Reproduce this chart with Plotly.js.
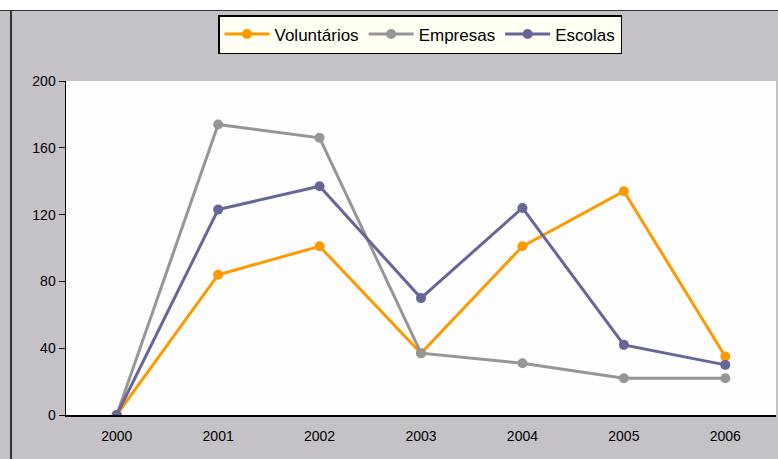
<!DOCTYPE html>
<html>
<head>
<meta charset="utf-8">
<script src="https://cdn.plot.ly/plotly-3.0.1.min.js"></script>
<style>
  html, body { margin: 0; padding: 0; background: #ffffff; }
  #wrap { position: relative; width: 778px; height: 459px; overflow: hidden; }
  #chart { position: absolute; left: 0; top: 0; width: 778px; height: 459px; }
  #topstrip { position: absolute; left: 0; top: 0; width: 778px; height: 10px; background: #ffffff; border-bottom: 1.5px solid #333; }
  #leftline { position: absolute; left: 10px; top: 10px; width: 1.5px; height: 449px; background: #333; }
</style>
</head>
<body>
<div id="wrap">
  <div id="chart"></div>
  <div id="topstrip"></div>
  <div id="leftline"></div>
</div>
<script>
const years = ['2000', '2001', '2002', '2003', '2004', '2005', '2006'];
const voluntarios = [0, 84, 101, 37, 101, 134, 35];
const empresas = [0, 174, 166, 37, 31, 22, 22];
const escolas = [0, 123, 137, 70, 124, 42, 30];
const yTicks = [0, 40, 80, 120, 160, 200];

const seriesNames = ['Voluntários', 'Empresas', 'Escolas'];
const seriesValues = [voluntarios, empresas, escolas];
const seriesColors = ['#ff9900', '#969696', '#666699'];

const traces = seriesNames.map((name, i) => ({
  type: 'scatter',
  mode: 'lines+markers',
  name: name,
  x: years,
  y: seriesValues[i],
  line: { color: seriesColors[i], width: 3 },
  marker: { color: seriesColors[i], size: 10, symbol: 'circle' }
}));

const layout = {
  width: 778,
  height: 459,
  margin: { l: 66, r: 2, t: 81, b: 44 },
  paper_bgcolor: '#c4c2c7',
  plot_bgcolor: '#fdfefd',
  font: { family: 'Liberation Sans, Arial, sans-serif', size: 14, color: '#000' },
  showlegend: true,
  legend: {
    orientation: 'h',
    xref: 'container', yref: 'container',
    x: 218 / 778, y: 1 - 15 / 459,
    xanchor: 'left', yanchor: 'top',
    bgcolor: '#fffff4',
    bordercolor: '#000',
    borderwidth: 1.5,
    itemwidth: 45,
    font: { size: 17, color: '#000' },
    traceorder: 'normal'
  },
  xaxis: {
    type: 'category',
    range: [-0.5, 6.5],
    showline: true, linecolor: '#000', linewidth: 1.5,
    showgrid: false, zeroline: false,
    ticks: '',
    ticklabelstandoff: 8,
    tickfont: { size: 14 }
  },
  yaxis: {
    range: [0, 200],
    tickvals: yTicks,
    showline: true, linecolor: '#000', linewidth: 1.5,
    showgrid: false, zeroline: false,
    ticks: 'outside', ticklen: 6, tickcolor: '#000', tickwidth: 1,
    tickfont: { size: 14 }
  }
};

Plotly.newPlot('chart', traces, layout, { displayModeBar: false, staticPlot: true });
</script>
</body>
</html>
